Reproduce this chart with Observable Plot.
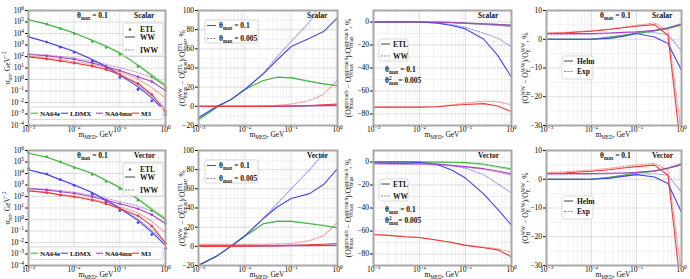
<!DOCTYPE html>
<html><head><meta charset="utf-8">
<script src="https://cdn.jsdelivr.net/npm/d3@7"></script>
<script src="https://cdn.jsdelivr.net/npm/@observablehq/plot@0.6"></script>
<style>
body{margin:0;background:#fff;}
#fig{position:relative;width:690px;height:279px;overflow:hidden;background:#fff;}
#fig svg{position:absolute;}
</style></head><body><div id="fig"></div>
<script>
const FONT = "Liberation Serif";
const mMed = [0.001, 0.0025, 0.005, 0.01, 0.025, 0.05, 0.1, 0.25, 0.5, 1];
const experiments = ["NA64e", "LDMX", "NA64mu", "M3"];
const expColors = ["#42b642", "#4545e8", "#a445be", "#ee3a3a"];
const xTicks = [1e-3, 1e-2, 1e-1, 1];
const sigmaTicks = [1e-4, 1e-3, 1e-2, 1e-1, 1, 1e1, 1e2, 1e3, 1e4, 1e5, 1e6];
const wwTicks = [-20, 0, 20, 40, 60, 80, 100];
const approachTicks = [-80, -60, -40, -20, 0];
const ffTicks = [-30, -20, -10, 0, 10];

// cross sections, GeV^-2
const scalarSigmaETL = {
  NA64e: [1.8e5, 6.5e4, 2.6e4, 9.3e3, 2.0e3, 6.0e2, 1.5e2, 13.5, 1.7, 0.2],
  LDMX: [5.8e3, 1.8e3, 6.5e2, 2.3e2, 38, 8.5, 1.5, 0.135, 0.014, 8e-4],
  NA64mu: [150, 115, 81, 58, 27, 13.5, 6.0, 1.7, 0.66, 0.11],
  M3: [93, 62, 41, 27, 14.5, 7.4, 2.6, 0.44, 0.049, 1.6e-3]
};
const scalarSigmaWW = {
  NA64e: [1.55e5, 6.5e4, 2.8e4, 1.1e4, 2.5e3, 7.8e2, 1.95e2, 17, 2.1, 0.25],
  LDMX: [5.1e3, 1.8e3, 7.0e2, 2.7e2, 51, 12.7, 2.4, 0.23, 0.025, 1.5e-3],
  NA64mu: [150, 115, 81, 58, 27, 13.5, 6.0, 1.71, 0.665, 0.111],
  M3: [93, 62, 41, 27, 14.5, 7.41, 2.61, 0.444, 0.0497, 1.64e-3]
};
const scalarSigmaIWW = {
  NA64e: [1.6e5, 6.7e4, 2.9e4, 1.15e4, 2.7e3, 8.5e2, 2.2e2, 20, 2.7, 0.4],
  LDMX: [5.2e3, 1.85e3, 7.3e2, 2.9e2, 58, 15, 3.0, 0.32, 0.04, 3e-3],
  NA64mu: [170, 135, 100, 75, 38, 21, 11, 4.0, 1.5, 0.3],
  M3: [110, 75, 52, 36, 20, 11, 4.5, 1.1, 0.2, 0.025]
};
const vectorSigmaETL = {
  NA64e: [7.1e5, 2.9e5, 1.0e5, 3.2e4, 8.1e3, 2.0e3, 4.6e2, 47, 6.0, 0.76],
  LDMX: [2.6e4, 9.3e3, 2.9e3, 9.1e2, 1.6e2, 33, 6.0, 0.54, 0.049, 3.1e-3],
  NA64mu: [460, 370, 260, 190, 93, 47, 23, 8.5, 2.6, 0.44],
  M3: [300, 215, 130, 93, 47, 23, 8.5, 2.1, 0.27, 8.7e-3]
};
const vectorSigmaWW = {
  NA64e: [5.7e5, 2.6e5, 1.0e5, 3.5e4, 1.0e4, 2.5e3, 5.8e2, 58, 7.3, 0.9],
  LDMX: [2.1e4, 8.4e3, 2.9e3, 1.0e3, 2.1e2, 47, 9.0, 0.84, 0.08, 5.6e-3],
  NA64mu: [465, 375, 263, 192, 94, 47.5, 23.3, 8.6, 2.63, 0.445],
  M3: [306, 219, 133, 95, 48, 23.5, 8.7, 2.15, 0.28, 9e-3]
};
const vectorSigmaIWW = {
  NA64e: [5.8e5, 2.65e5, 1.05e5, 3.7e4, 1.08e4, 2.8e3, 6.6e2, 70, 9.5, 1.3],
  LDMX: [2.15e4, 8.6e3, 3.0e3, 1.06e3, 2.3e2, 53, 10.5, 1.1, 0.12, 9e-3],
  NA64mu: [520, 430, 320, 240, 125, 68, 36, 15, 5.5, 1.3],
  M3: [330, 240, 150, 110, 58, 30, 12.5, 3.8, 0.7, 0.07]
};

// (WW - ETL)/ETL, %
const scalarWWtheta01 = {
  NA64e: [-14, -1, 7, 17.6, 27, 30.3, 29.7, 26, 23.4, 21.7],
  LDMX: [-12, 0, 7, 17.6, 33.8, 48.6, 62.4, 71, 78, 92.4],
  NA64mu: [0, 0, 0, 0, 0, 0, 0.2, 0.4, 0.7, 1.0],
  M3: [0, 0, 0, 0, 0, 0.1, 0.3, 0.8, 1.5, 2.5]
};
const scalarWWtheta0005 = {
  NA64e: [-14, -1, 7, 17.6, 27, 30.6, 30.2, 26.6, 23.6, 21],
  LDMX: [-12, 0, 7, 17.6, 34.5, 52, 67.6, 88, 112, 140],
  NA64mu: [0, 0, 0, 0, 0.1, 0.2, 0.4, 0.8, 1.2, 1.8],
  M3: [0, 0, 0.1, 0.2, 0.5, 1, 2.4, 6, 12.4, 27.6]
};
const vectorWWtheta01 = {
  NA64e: [-19.6, -10, 0, 10.5, 23.5, 26, 26, 23.5, 21.7, 19],
  LDMX: [-20, -10, 0, 11, 29, 41, 50, 55, 64.5, 81],
  NA64mu: [0.5, 0.5, 0.5, 0.5, 0.5, 0.5, 0.6, 0.7, 0.8, 0.9],
  M3: [0, 0, 0, 0.1, 0.3, 0.6, 1.0, 1.6, 2.2, 3]
};
const vectorWWtheta0005 = {
  NA64e: [-19.6, -10, 0, 10.5, 23.5, 26.3, 26.5, 24, 22, 20],
  LDMX: [-20, -10, 0, 11, 29, 44.6, 60, 80, 97, 125],
  NA64mu: [1, 1, 1, 1, 1, 1, 1, 1.2, 1.4, 1.6],
  M3: [2, 2, 2, 2, 2.2, 2.5, 3, 6, 11, 25]
};

// approach: theta_max vs theta^2_max, %
const scalarApproachETL = {
  NA64e: [0, 0, 0, 0, 0, -0.3, -1, -1.5, -2, -2.7],
  LDMX: [0, 0, 0, 0, -1, -3, -6, -15, -29, -48],
  NA64mu: [0, 0, 0, 0, -0.2, -0.5, -1, -1.8, -2.3, -3],
  M3: [-74, -74, -74, -74, -73.7, -72.6, -71.7, -71, -73, -78]
};
const scalarApproachWW = {
  NA64e: [0, 0, 0, 0, 0, -0.4, -1.2, -2, -2.8, -3.5],
  LDMX: [0, 0, 0, 0, -0.8, -2.2, -4.7, -9.7, -14, -21.5],
  NA64mu: [0, 0, 0, 0, -0.3, -0.7, -1.3, -2.3, -3, -4],
  M3: [-74, -74, -74, -74, -73.5, -72.2, -70.5, -68.7, -69.3, -72]
};
const vectorApproachETL = {
  NA64e: [0, 0, 0, 0, 0, -0.2, -0.5, -1.8, -3.9, -6],
  LDMX: [0, 0, 0, -0.3, -2.4, -7, -14, -28, -41, -55],
  NA64mu: [-1, -1.2, -1.4, -1.5, -2, -2.8, -4, -5.8, -7.8, -10.4],
  M3: [-63, -64, -65, -65.7, -68, -70, -72.5, -74.6, -76.4, -82.4]
};
const vectorApproachWW = {
  NA64e: [0, 0, 0, 0, -0.2, -0.5, -1, -2.5, -4.8, -7],
  LDMX: [0, 0, 0, -0.2, -1.5, -3, -5.4, -11, -19, -27],
  NA64mu: [-2, -2.1, -2.2, -2.3, -2.8, -3.5, -4.6, -6.5, -8.8, -11.5],
  M3: [-63, -64, -65, -65.7, -68, -70, -72.3, -74, -75.5, -78.5]
};

// form factor: Helm vs Exp, %
const scalarFFHelm = {
  NA64e: [0, 0, 0, 0, 0.8, 1.4, 2, 2.9, 3.7, 4.9],
  LDMX: [0, 0, 0, 0, 0.3, 1, 2, 0.8, -1.5, -10.8],
  NA64mu: [2, 2, 2, 2, 2.2, 2.4, 2.6, 3.1, 4, 5.2],
  M3: [2, 2.2, 2.5, 2.8, 3.4, 4, 4.5, 5.1, 1.4, -40]
};
const scalarFFExp = {
  NA64e: [0, 0, 0, 0, 0.8, 1.4, 2, 2.9, 3.8, 5],
  LDMX: [0, 0, 0, 0, 0.4, 1.2, 2.2, 2.3, 1.6, -4],
  NA64mu: [1.6, 1.6, 1.7, 1.7, 2, 2.2, 2.4, 3, 4, 5.5],
  M3: [2.2, 2.4, 2.7, 3, 3.6, 4.2, 4.8, 5.7, 3.1, -33]
};
const vectorFFHelm = {
  NA64e: [0, 0, 0, 0, 0.7, 1.4, 2.2, 2.8, 3.8, 4.9],
  LDMX: [0, 0, 0, 0, 0.4, 1, 1.6, 0.8, -1.5, -11.5],
  NA64mu: [2, 2, 2, 2, 2.1, 2.2, 2.4, 2.9, 3.8, 5.2],
  M3: [2, 2.2, 2.5, 2.8, 3.3, 3.9, 4.4, 4.9, 1.4, -40]
};
const vectorFFExp = {
  NA64e: [0, 0, 0, 0, 0.7, 1.4, 2.2, 2.8, 3.9, 5],
  LDMX: [0, 0, 0, 0, 0.5, 1.1, 1.8, 1.9, 1.4, -4.5],
  NA64mu: [1.6, 1.6, 1.7, 1.7, 1.9, 2.1, 2.3, 2.9, 4, 5.6],
  M3: [2.4, 2.6, 2.9, 3.2, 3.8, 4.4, 5, 5.5, 3.2, -33]
};

// ---------- layout ----------
const W = 172, H = 140;
const cols = [{left: 0, ml: 28, mr: 7}, {left: 170, ml: 28, mr: 5}, {left: 340, ml: 33, mr: 1}, {left: 515, ml: 31, mr: 6}];
const kinds = {
  sigma: {type: "log", domain: [1e-4, 1e6], ticks: sigmaTicks, minor: []},
  ww: {type: "linear", domain: [-20, 100], ticks: wwTicks, minor: d3.range(-10, 100, 20)},
  app: {type: "linear", domain: [-90, 10], ticks: approachTicks, minor: d3.range(-90, 10, 20)},
  ff: {type: "linear", domain: [-30, 10], ticks: ffTicks, minor: d3.range(-25, 10, 10)}
};
const panels = [
  {col: 0, row: 0, kind: "sigma", solid: scalarSigmaWW, dotted: scalarSigmaIWW, dots: scalarSigmaETL},
  {col: 1, row: 0, kind: "ww", solid: scalarWWtheta01, dotted: scalarWWtheta0005},
  {col: 2, row: 0, kind: "app", solid: scalarApproachETL, dotted: scalarApproachWW},
  {col: 3, row: 0, kind: "ff", solid: scalarFFHelm, dotted: scalarFFExp},
  {col: 0, row: 1, kind: "sigma", solid: vectorSigmaWW, dotted: vectorSigmaIWW, dots: vectorSigmaETL},
  {col: 1, row: 1, kind: "ww", solid: vectorWWtheta01, dotted: vectorWWtheta0005},
  {col: 2, row: 1, kind: "app", solid: vectorApproachETL, dotted: vectorApproachWW},
  {col: 3, row: 1, kind: "ff", solid: vectorFFHelm, dotted: vectorFFExp}
];
const modes = ["Scalar", "Vector"];

const rows = obj => experiments.flatMap(e => obj[e].map((v, i) => ({x: mMed[i], y: v, exp: e})));
const xMinor = [1e-3, 1e-2, 1e-1].flatMap(d => d3.range(2, 10).map(k => k * d));
const supMap = {"-": "⁻", "0": "⁰", "1": "¹", "2": "²", "3": "³", "4": "⁴", "5": "⁵", "6": "⁶", "7": "⁷", "8": "⁸", "9": "⁹"};
const pow10 = d => "10" + String(Math.round(Math.log10(d))).split("").map(c => supMap[c]).join("");
const fig = document.getElementById("fig");

function fixPowers(svg) {
  const inv = {};
  for (const k in supMap) inv[supMap[k]] = k;
  d3.select(svg).selectAll("text").each(function () {
    const s = this.textContent;
    const m = /^10([⁻⁰¹²³⁴⁵⁶⁷⁸⁹]+)$/.exec(s);
    if (!m) return;
    const e = m[1].split("").map(c => inv[c]).join("").replace("-", "−");
    this.textContent = "10";
    d3.select(this).append("tspan").attr("dy", "-3").attr("font-size", 5.4).text(e);
  });
}

for (const p of panels) {
  const c = cols[p.col], k = kinds[p.kind];
  const marks = [
    Plot.ruleX(xMinor, {stroke: "#000", strokeOpacity: 0.05}),
    Plot.ruleX(xTicks, {stroke: "#000", strokeOpacity: 0.12}),
    Plot.ruleY(k.minor, {stroke: "#000", strokeOpacity: 0.05}),
    Plot.ruleY(k.ticks, {stroke: "#000", strokeOpacity: 0.12}),
    Plot.line(rows(p.dotted), {x: "x", y: "y", z: "exp", stroke: "exp", strokeWidth: 1.1, strokeOpacity: 0.5, strokeDasharray: "2,1.3", clip: true}),
    Plot.line(rows(p.solid), {x: "x", y: "y", z: "exp", stroke: "exp", strokeWidth: 1.1, clip: true})
  ];
  if (p.dots) marks.push(Plot.dot(rows(p.dots), {x: "x", y: "y", fill: "exp", r: 1.4}));
  marks.push(Plot.frame({stroke: "#a8a8a8", strokeWidth: 2}));
  const svg = Plot.plot({
    width: W, height: H,
    marginLeft: c.ml, marginRight: c.mr, marginTop: 10, marginBottom: 15,
    x: {type: "log", domain: [1e-3, 1], ticks: xTicks, tickFormat: pow10, tickSize: 2, tickPadding: -1, label: null},
    y: {type: k.type, domain: k.domain, ticks: k.ticks, tickFormat: k.type === "log" ? pow10 : (d => d.toString().replace("-", "−")), tickSize: 3, tickPadding: 1.5, label: null},
    color: {domain: experiments, range: expColors},
    style: {fontFamily: FONT, fontSize: "7.5px", overflow: "visible", background: "transparent", color: "#000"},
    marks
  });
  svg.style.left = c.left + "px";
  svg.style.top = (p.row * 140) + "px";
  fig.appendChild(svg);
  fixPowers(svg);
}

// ---------- overlay: labels, legends ----------
const ov = d3.select(fig).append("svg").attr("width", 690).attr("height", 279)
  .style("left", "0px").style("top", "0px").style("pointer-events", "none")
  .attr("font-family", FONT);

function rich(parent, x, y, segs, o = {}) {
  const size = o.size || 8;
  const t = parent.append("text").attr("font-size", size)
    .attr("font-weight", o.weight || "normal").attr("fill", "#111")
    .attr("text-anchor", o.anchor || "start").style("white-space", "pre")
    .attr("transform", `translate(${x},${y})` + (o.rotate ? ` rotate(${o.rotate})` : ""));
  let shift = 0, pendingDx = 0;
  const sm = size * 0.68, up = -size * 0.4, down = o.down != null ? o.down : size * 0.3;
  const add = (txt, fs, target) => {
    const ts = t.append("tspan").attr("font-size", fs).attr("dy", target - shift).text(txt);
    if (pendingDx) { ts.attr("dx", pendingDx); pendingDx = 0; }
    shift = target;
    return ts;
  };
  for (const s of segs) {
    if (typeof s === "string") add(s, size, 0);
    else if (s.sup != null && s.sub != null) {
      const a = add(s.sup, sm, up);
      const la = a.node().getComputedTextLength();
      const b = add(s.sub, sm, down);
      b.attr("dx", -la);
      const lb = b.node().getComputedTextLength();
      pendingDx = Math.max(0, la - lb);
    } else if (s.sup != null) add(s.sup, sm, up);
    else add(s.sub, sm, down);
  }
  return t;
}
function box(x, y, w, h) {
  ov.append("rect").attr("x", x).attr("y", y).attr("width", w).attr("height", h)
    .attr("rx", 2).attr("fill", "#fff").attr("fill-opacity", 0.85).attr("stroke", "#cfcfcf").attr("stroke-width", 0.8);
}
function seg(x1, x2, y, color, dashed, op = 1) {
  ov.append("line").attr("x1", x1).attr("x2", x2).attr("y1", y).attr("y2", y)
    .attr("stroke", color).attr("stroke-width", 1.1).attr("stroke-opacity", op)
    .attr("stroke-dasharray", dashed ? "2,1.3" : null);
}
const thetaTxt = v => ["θ", {sub: "max"}, " = " + v];
const xCenters = [96, 267, 442, 613];
const yLabelX = [9.5, 185, 351, 528];
const yLabels = [
  ["σ", {sub: "tot"}, ", GeV", {sup: "−2"}],
  ["(O", {sup: "WW", sub: "θmax"}, " − O", {sup: "ETL", sub: "θmax"}, ")/O", {sup: "ETL", sub: "θmax"}, ", %"],
  ["(O", {sup: "approach", sub: "θmax"}, " − O", {sup: "approach", sub: "θ²max"}, ")/O", {sup: "approach", sub: "θmax"}, ", %"],
  ["(O", {sup: "WW", sub: "H"}, " − O", {sup: "WW", sub: "E"}, ")/O", {sup: "WW", sub: "E"}, ", %"]
];

for (let r = 0; r < 2; r++) {
  const oy = r * 140;
  const mode = modes[r];
  for (let c = 0; c < 4; c++) {
    rich(ov, xCenters[c], 137.3 + oy, ["m", {sub: "MED"}, ", GeV"], {anchor: "middle", size: 7.5, down: 1.5});
    rich(ov, yLabelX[c], 68 + oy, yLabels[c], {anchor: "middle", rotate: -90, size: 7.6});
  }
  // panel 1
  rich(ov, 77, 18 + oy, thetaTxt("0.1"), {weight: "bold", size: 7.5});
  rich(ov, 134, 18 + oy, [mode], {weight: "bold", size: 7.5});
  box(123, 23 + oy, 40, 33);
  ov.append("circle").attr("cx", 130).attr("cy", 29.5 + oy).attr("r", 1.3).attr("fill", "#555");
  rich(ov, 140, 32 + oy, ["ETL"], {weight: "bold", size: 7.5});
  seg(125, 135, 37 + oy, "#555", false);
  rich(ov, 140, 39.5 + oy, ["WW"], {weight: "bold", size: 7.5});
  seg(125, 135, 50 + oy, "#888", true);
  rich(ov, 140, 52.5 + oy, ["IWW"], {weight: "bold", size: 7.5});
  box(30, 107 + oy, 133, 12.5);
  const lx = [31, 61, 96, 132];
  experiments.forEach((e, i) => {
    seg(lx[i], lx[i] + 7, 113.2 + oy, expColors[i], false);
    rich(ov, lx[i] + 9, 115.8 + oy, [e], {weight: "bold", size: 7});
  });
  // panel 2
  box(205, 20 + oy, 53, 23);
  seg(207, 216, 25.5 + oy, "#555", false);
  rich(ov, 219, 28 + oy, thetaTxt("0.1"), {weight: "bold", size: 7.5});
  seg(207, 216, 38.5 + oy, "#888", true);
  rich(ov, 219, 41 + oy, thetaTxt("0.005"), {weight: "bold", size: 7.5});
  rich(ov, 307, 18 + oy, [mode], {weight: "bold", size: 7.5});
  // panel 3
  box(379, 39 + oy, 29, 22);
  seg(381, 390, 44 + oy, "#555", false);
  rich(ov, 393, 46.5 + oy, ["ETL"], {weight: "bold", size: 7.5});
  seg(381, 390, 56 + oy, "#888", true);
  rich(ov, 393, 58.5 + oy, ["WW"], {weight: "bold", size: 7.5});
  rich(ov, 385, 72 + oy, thetaTxt("0.1"), {weight: "bold", size: 7.5});
  rich(ov, 385, 82.5 + oy, ["θ", {sup: "2", sub: "max"}, "= 0.005"], {weight: "bold", size: 7.5});
  rich(ov, 478, 18 + oy, [mode], {weight: "bold", size: 7.5});
  // panel 4
  box(562, 56 + oy, 31, 23);
  seg(564, 573, 61 + oy, "#555", false);
  rich(ov, 577, 63.5 + oy, ["Helm"], {weight: "bold", size: 7.5});
  seg(564, 573, 71.5 + oy, "#888", true);
  rich(ov, 577, 74 + oy, ["Exp"], {weight: "bold", size: 7.5});
  rich(ov, 600, 18 + oy, thetaTxt("0.1"), {weight: "bold", size: 7.5});
  rich(ov, 652, 18 + oy, [mode], {weight: "bold", size: 7.5});
}
</script></body></html>
